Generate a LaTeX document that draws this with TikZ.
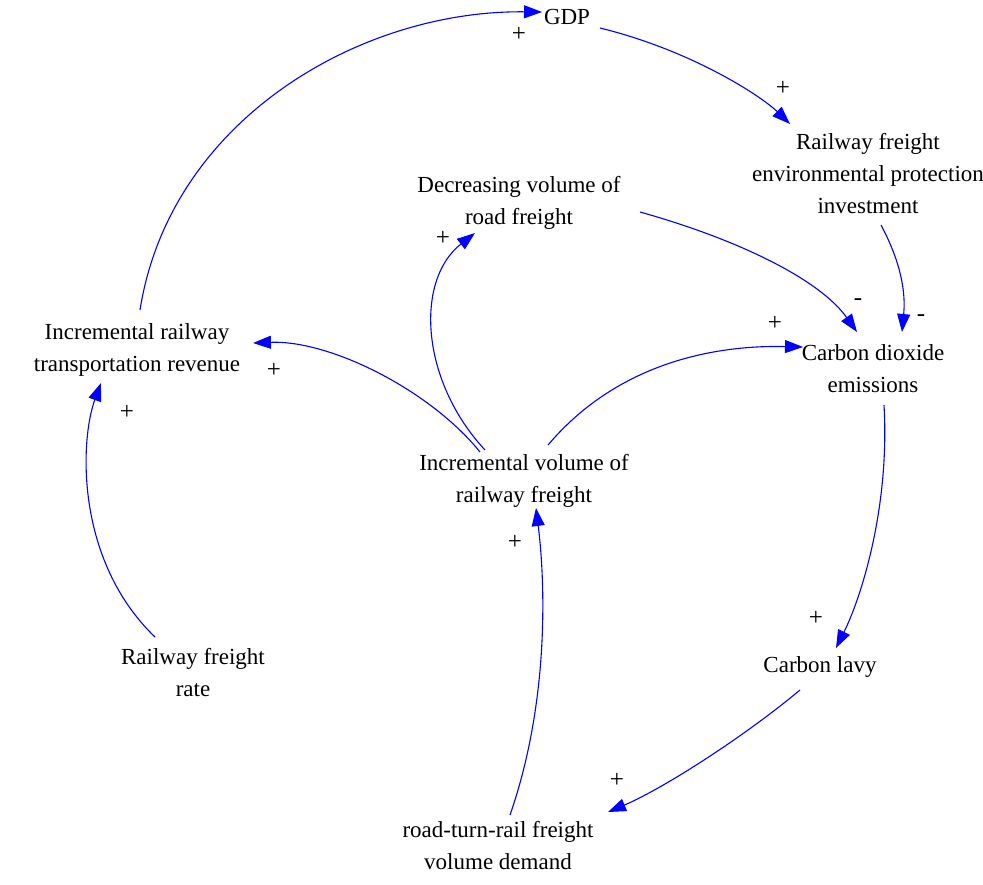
\documentclass[tikz,border=0pt]{standalone}
\usepackage{fontspec}
\setmainfont{Liberation Serif}
\usetikzlibrary{arrows.meta}
\begin{document}
\begin{tikzpicture}[x=1pt,y=-1pt,
  lbl/.style={align=center,font=\fontsize{23}{32}\selectfont,inner sep=0},
  sg/.style={font=\fontsize{25}{25}\selectfont,inner sep=0},
  ln/.style={draw=blue,line width=1.1pt,-{Triangle[length=18pt,width=13pt]},fill=none}]
\useasboundingbox (0,0) rectangle (983,884);
\node[lbl] (gdp) at (567,17) {GDP};
\node[lbl] (env) at (868,174) {Railway freight\\environmental protection\\investment};
\node[lbl] (dec) at (519,203) {Decreasing volume of\\road freight};
\node[lbl] (rev) at (137,350) {Incremental railway\\transportation revenue};
\node[lbl] (co2) at (873,369) {Carbon dioxide\\emissions};
\node[lbl] (inc) at (524,481) {Incremental volume of\\railway freight};
\node[lbl] (rate) at (193,673) {Railway freight\\rate};
\node[lbl] (lavy) at (820,667) {Carbon lavy};
\node[lbl] (road) at (498,846) {road-turn-rail freight\\volume demand};
\coordinate (a1) at (140,310); \coordinate (b1) at (542,12);
\coordinate (a2) at (600,28); \coordinate (b2) at (790,124);
\coordinate (a3) at (881,225); \coordinate (b3) at (902,332);
\coordinate (a4) at (640,212); \coordinate (b4) at (857,332);
\coordinate (a5) at (485,450); \coordinate (b5) at (475,233);
\coordinate (a6) at (480,452); \coordinate (b6) at (253,343);
\coordinate (a7) at (548,445); \coordinate (b7) at (803,347);
\coordinate (a8) at (884,405); \coordinate (b8) at (836,648);
\coordinate (a9) at (800,690); \coordinate (b9) at (608,812);
\coordinate (a10) at (510,815); \coordinate (b10) at (536,508);
\coordinate (a11) at (155,637); \coordinate (b11) at (101,383);
\draw[ln] (a1) .. controls (170,120) and (360,10) .. (b1);
\draw[ln] (a2) .. controls (690,50) and (760,95) .. (b2);
\draw[ln] (a3) .. controls (905,270) and (905,300) .. (b3);
\draw[ln] (a4) .. controls (740,240) and (820,280) .. (b4);
\draw[ln] (a5) .. controls (420,380) and (415,280) .. (b5);
\draw[ln] (a6) .. controls (430,390) and (330,340) .. (b6);
\draw[ln] (a7) .. controls (620,360) and (720,345) .. (b7);
\draw[ln] (a8) .. controls (890,510) and (860,600) .. (b8);
\draw[ln] (a9) .. controls (740,740) and (660,790) .. (b9);
\draw[ln] (a10) .. controls (550,700) and (545,580) .. (b10);
\draw[ln] (a11) .. controls (75,560) and (80,440) .. (b11);
\node[sg] (s1) at (519,34) {+};
\node[sg] (s2) at (783,88) {+};
\node[sg] (s3) at (858,302) {-};
\node[sg] (s4) at (921,318) {-};
\node[sg] (s5) at (775,323) {+};
\node[sg] (s6) at (443,238) {+};
\node[sg] (s7) at (274,370) {+};
\node[sg] (s8) at (127,412) {+};
\node[sg] (s9) at (515,542) {+};
\node[sg] (s10) at (816,618) {+};
\node[sg] (s11) at (617,780) {+};
\end{tikzpicture}
\end{document}
